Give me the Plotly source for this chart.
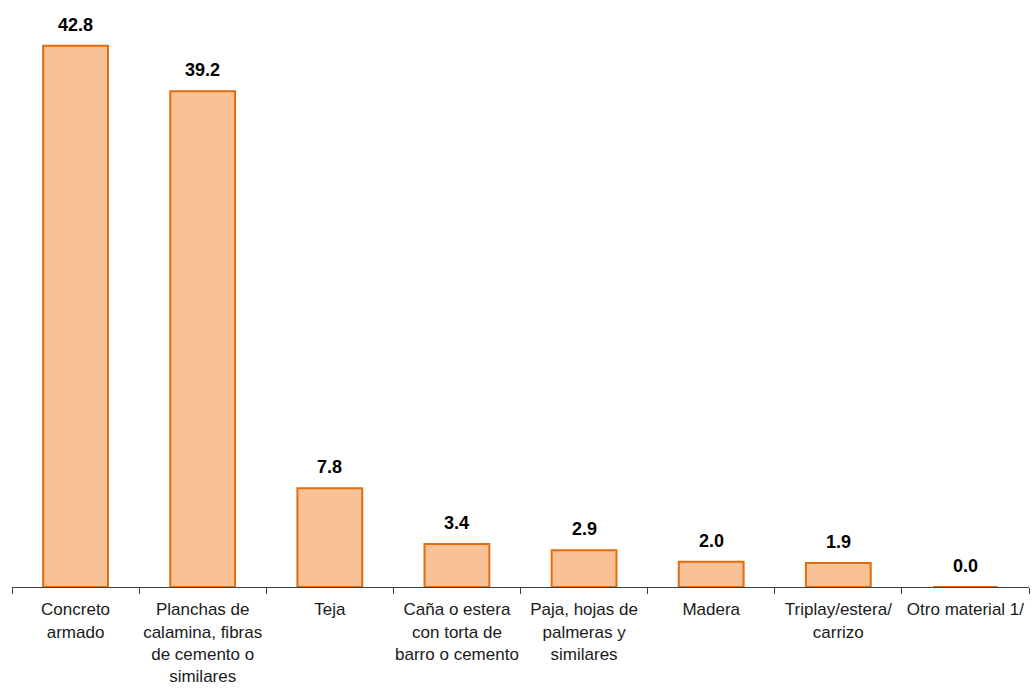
import plotly.graph_objects as go

categories = [
    "Concreto<br>armado",
    "Planchas de<br>calamina, fibras<br>de cemento o<br>similares",
    "Teja",
    "Caña o estera<br>con torta de<br>barro o cemento",
    "Paja, hojas de<br>palmeras y<br>similares",
    "Madera",
    "Triplay/estera/<br>carrizo",
    "Otro material 1/",
]
values = [42.8, 39.2, 7.8, 3.4, 2.9, 2.0, 1.9, 0.0]
value_labels = [f"{v:.1f}" for v in values]

FONT = "Liberation Sans, Arial, sans-serif"

fig = go.Figure(
    go.Bar(
        x=categories,
        y=values,
        marker=dict(color="#F9C196", line=dict(color="#E46C0A", width=2)),
        hoverinfo="x+y",
    )
)

for c, v, t in zip(categories, values, value_labels):
    fig.add_annotation(
        x=c, y=v, text=f"<b>{t}</b>", showarrow=False,
        yanchor="bottom", yshift=9,
        font=dict(family=FONT, size=18, color="#000000"),
    )

fig.update_layout(
    width=1032,
    height=690,
    margin=dict(l=12, r=3, t=18, b=103, autoexpand=False),
    plot_bgcolor="white",
    paper_bgcolor="white",
    bargap=0.49,
    showlegend=False,
    font=dict(family=FONT, size=17, color="#1a1a1a"),
)
fig.update_xaxes(
    type="category",
    automargin=False,
    tickangle=0,
    showline=True,
    linecolor="#404040",
    linewidth=1,
    ticks="outside",
    tickson="boundaries",
    ticklen=6,
    tickcolor="#404040",
    ticklabelstandoff=7,
    tickfont=dict(family=FONT, size=17, color="#1a1a1a"),
    showgrid=False,
)
fig.update_yaxes(
    range=[0, 45],
    visible=False,
    showgrid=False,
    zeroline=False,
)

fig.write_html(
    "out.html",
    config={"displayModeBar": False},
    post_script="document.body.style.margin='0';document.body.style.overflow='hidden';",
)
